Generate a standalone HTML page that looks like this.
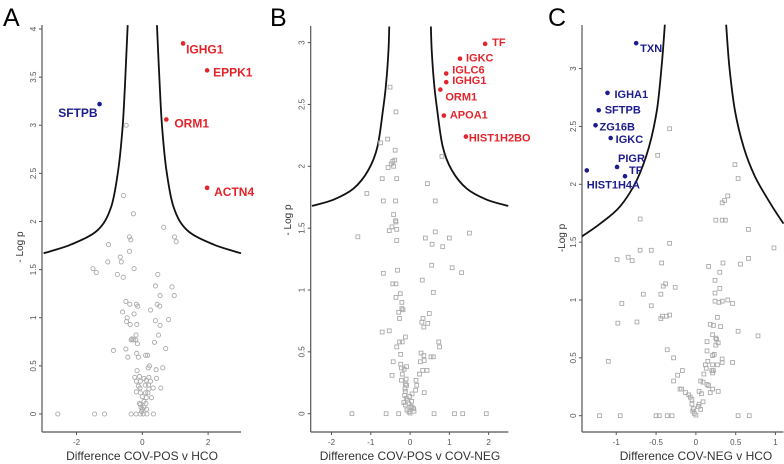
<!DOCTYPE html>
<html><head><meta charset="utf-8">
<style>
html,body{margin:0;padding:0;background:#fff;}
svg{display:block;font-family:"Liberation Sans",Arial,sans-serif;}
</style></head>
<body>
<svg id="fig" width="784" height="464" viewBox="0 0 784 464" xmlns="http://www.w3.org/2000/svg"></svg>
<script>
// ---------- Panel A data ----------
const aX = [-0.49,-0.57,-0.27,0.65,0.98,1.03,-0.39,-0.35,-1.03,-0.39,-0.67,-1.05,-0.64,-1.5,-0.25,
 -1.40,-0.76,-0.58,0.47,0.40,0.90,0.54,0.97,-0.50,-0.38,-0.18,-0.14,0.45,0.53,0.25,-0.60,-0.25,-0.46,-0.48,-0.37,-0.17,0.40,0.80,0.54,0.49,-0.19,
 -0.31,-0.26,-0.2,-0.34,-0.15,0.37,-0.88,-0.50,0.71,-0.44,-0.17,-0.12,0.10,0.16,
 0.22,0.18,0.42,0.62,-0.16,-0.23,-0.09,0.05,0.20,0.43,-0.18,-0.06,0.12,0.25,-0.12,0.09,0.19,0.33,0.56,-0.07,0.20,-0.18,-0.06,0.10,0.17,0.0,0.12,0.28,-0.09,-0.06,0.05,0.11,-0.04,0.0,0.05,-0.02,0.13,
 -2.57,-1.45,-1.15,-0.34,-0.19,-0.06,0.03,0.14,0.34];
const aY = [3.0,2.27,2.08,1.94,1.84,1.79,1.84,1.81,1.76,1.69,1.63,1.58,1.58,1.51,1.51,
 1.47,1.45,1.42,1.45,1.33,1.32,1.23,1.23,1.17,1.14,1.14,1.12,1.14,1.12,1.08,1.06,1.04,1.0,0.96,0.93,0.93,0.97,0.98,0.92,0.82,0.82,
 0.78,0.77,0.77,0.77,0.73,0.745,0.66,0.675,0.68,0.59,0.63,0.59,0.61,0.61,
 0.50,0.48,0.46,0.48,0.45,0.38,0.39,0.37,0.38,0.37,0.34,0.34,0.35,0.34,0.29,0.30,0.30,0.27,0.27,0.27,0.26,0.23,0.22,0.22,0.22,0.18,0.17,0.17,0.11,0.10,0.13,0.11,0.07,0.05,0.07,0.025,0.05,
 0,0,0,0,0,0,0,0,0];
const aHitNames = ["IGHG1","EPPK1","SFTPB","ORM1","ACTN4"];
const aHitX = [1.24,1.97,-1.30,0.73,1.97];
const aHitY = [3.85,3.57,3.22,3.06,2.35];
const aHitUp = [true,true,false,true,true];
const aCurveRX = [0.445,0.53,0.60,0.73,0.95,1.36,2.17,3.0];
const aCurveRY = [4.04,3.40,2.98,2.54,2.15,1.91,1.76,1.67];
const aXTicks = [-2,0,2];
const aYTicks = [0,0.5,1,1.5,2,2.5,3,3.5,4];

// ---------- Panel B data ----------
const bX = [-0.51,-0.36,-0.57,-0.75,-0.38,0.81,-0.39,-0.44,-0.48,-0.42,-0.56,-0.71,-0.34,0.44,-1.10,-0.68,-0.37,0.64,-0.42,-0.37,
 -1.33,-0.53,-0.46,-0.36,-0.34,-0.34,0.64,0.39,0.56,0.83,1.00,1.51,-0.68,-0.32,0.55,1.07,1.31,0.31,-0.44,-0.36,0.59,-0.25,-0.36,-0.21,-0.21,-0.18,-0.29,-0.27,
 0.49,0.33,0.30,0.45,0.35,-0.71,-0.53,-0.12,-0.27,-0.20,0.73,0.75,-0.34,-0.24,0.28,0.35,0.53,0.59,-0.43,0.26,0.36,-0.24,-0.09,-0.22,0.32,0.43,-0.15,0.24,-0.46,-0.2,-0.22,-0.1,0.15,0.17,-0.12,-0.09,
 -0.13,-0.12,0.14,0.36,-0.14,-0.10,-0.16,-0.07,-0.12,-0.03,0.05,0.09,-0.08,-0.03,0.02,-0.01,0.05,0.10,0.04,
 -1.48,-0.61,-0.29,0.61,1.13,1.34,1.94,0.0];
const bY = [2.64,2.44,2.22,2.19,2.13,2.08,2.05,2.04,2.02,2.0,1.99,1.90,1.90,1.86,1.78,1.72,1.72,1.72,1.61,1.56,
 1.43,1.48,1.51,1.55,1.49,1.40,1.47,1.42,1.37,1.35,1.42,1.46,1.135,1.16,1.20,1.18,1.14,1.08,1.05,1.05,0.98,0.97,0.94,0.90,0.85,0.84,0.82,0.77,
 0.81,0.77,0.74,0.73,0.70,0.66,0.67,0.62,0.58,0.58,0.58,0.54,0.54,0.48,0.49,0.47,0.46,0.46,0.42,0.42,0.43,0.40,0.38,0.37,0.35,0.35,0.36,0.32,0.31,0.32,0.27,0.28,0.27,0.23,0.24,0.23,
 0.20,0.18,0.19,0.17,0.148,0.124,0.09,0.11,0.07,0.08,0.05,0.04,0.03,0.016,0.057,0.14,0.16,0.02,0.10,
 0,0,0,0,0,0,0,0.005];
const bHitNames = ["TF","IGKC","IGLC6","IGHG1","ORM1","APOA1","HIST1H2BO"];
const bHitX = [1.91,1.27,0.92,0.92,0.77,0.86,1.42];
const bHitY = [2.99,2.87,2.75,2.68,2.62,2.41,2.24];
const bHitUp = [true,true,true,true,true,true,true];
const bCurveRX = [0.53,0.55,0.61,0.68,0.83,1.06,1.44,1.95,2.5];
const bCurveRY = [3.13,2.94,2.67,2.48,2.16,1.97,1.82,1.73,1.68];
const bXTicks = [-2,-1,0,1,2];
const bYTicks = [0,0.5,1,1.5,2,2.5,3];

// ---------- Panel C data ----------
const cX = [-0.33,-0.48,0.49,0.53,0.40,-0.70,0.33,0.36,0.25,0.33,0.37,0.66,-0.33,0.98,-0.99,-0.85,-0.80,-0.70,-0.56,-0.43,
 0.16,0.34,0.56,0.66,0.30,-0.38,-0.41,-0.26,0.24,0.30,0.24,-0.66,-0.44,-0.93,-0.56,0.24,0.29,0.33,0.40,0.46,-0.44,-0.42,-0.37,-0.33,-0.98,-0.74,
 0.27,0.18,0.22,0.31,0.53,0.78,0.21,0.25,0.26,0.28,0.25,0.14,-0.36,-0.28,-1.10,0.14,0.21,0.23,0.15,0.12,0.21,0.27,0.33,0.33,0.46,
 0.13,0.20,0.21,0.22,-0.17,-0.23,-0.28,0.10,0.06,0.09,0.14,0.16,0.28,0.21,0.18,-0.20,-0.18,
 -0.13,-0.09,-0.07,-0.05,-0.05,-0.03,-0.04,-0.02,0.0,0.03,0.06,0.04,0.09,0.04,0.07,
 -1.21,-0.95,-0.50,-0.46,-0.36,-0.30,0.53,0.67];
const cY = [2.48,2.25,2.17,2.05,1.90,1.70,1.84,1.86,1.69,1.69,1.69,1.61,1.49,1.45,1.35,1.37,1.34,1.43,1.43,1.32,
 1.29,1.32,1.31,1.36,1.24,1.14,1.12,1.11,1.17,1.10,1.06,1.05,1.05,0.97,0.95,0.99,0.98,0.99,1.0,0.97,0.84,0.86,0.86,0.87,0.80,0.81,
 0.85,0.79,0.78,0.77,0.73,0.69,0.70,0.67,0.66,0.63,0.61,0.64,0.57,0.50,0.47,0.56,0.52,0.53,0.47,0.44,0.44,0.44,0.49,0.46,0.46,
 0.41,0.39,0.37,0.39,0.39,0.35,0.30,0.36,0.30,0.29,0.27,0.26,0.21,0.23,0.20,0.23,0.23,
 0.20,0.18,0.16,0.14,0.10,0.06,0.04,0.02,0.005,0.08,0.054,0.10,0.12,0.21,0.19,
 0,0,0,0,0,0,0,0];
const cHitNames = ["TXN","IGHA1","SFTPB","ZG16B","IGKC","PIGR","TF","HIST1H4A"];
const cHitX = [-0.75,-1.11,-1.22,-1.26,-1.07,-0.99,-0.89,-1.37];
const cHitY = [3.22,2.79,2.64,2.51,2.40,2.15,2.07,2.12];
const cHitUp = [false,false,false,false,false,false,false,false];
const cCurveLX = [-0.39,-0.43,-0.49,-0.59,-0.74,-0.95,-1.20,-1.43];
const cCurveLY = [3.38,3.02,2.64,2.32,2.04,1.81,1.66,1.55];
const cCurveRX = [0.38,0.42,0.49,0.60,0.74,0.93,1.10];
const cCurveRY = [3.38,3.02,2.64,2.32,2.07,1.84,1.66];
const cXTicks = [-1,-0.5,0,0.5,1];
const cYTicks = [0,0.5,1,1.5,2,2.5,3];

const RED = "#e3242b", BLUE = "#1c1c8c";
const NS = "http://www.w3.org/2000/svg";
const svg = document.getElementById("fig");
function mk(tag, attrs, parent){
  const e = document.createElementNS(NS, tag);
  for (const k in attrs) e.setAttribute(k, attrs[k]);
  (parent || svg).appendChild(e);
  return e;
}
function scale(d0,d1,r0,r1){ return v => r0 + (v-d0)/(d1-d0)*(r1-r0); }

function panel(cfg){
  const g = mk("g", {});
  
  
  const sx = scale(cfg.xd[0], cfg.xd[1], cfg.xr[0], cfg.xr[1]);
  const sy = scale(0, 1, cfg.y0, cfg.y1);
  const L = cfg.xr[0], R = cfg.xr[1], B = cfg.axisY, T = cfg.top;
  const lt = mk("text", {x: cfg.letterX, y: 26, "font-size": 25, fill: "#000"}, g);
  lt.textContent = cfg.letter;
  
  
  const ya = mk("line", {x1:L, y1:T, x2:L, y2:B, stroke:"#555", "stroke-width":1.2}, g);
  
  
  const xa = mk("line", {x1:L, y1:B, x2:R, y2:B, stroke:"#555", "stroke-width":1.2}, g);
  
  
  cfg.yt.forEach(v => {
    const y = sy(v);
    mk("line", {x1:L-3, y1:y, x2:L, y2:y, stroke:"#555"}, g);
    const t = mk("text", {x:0, y:0, "font-size":8, fill:"#555", "text-anchor":"middle",
      transform:`translate(${L-6},${y}) rotate(-90)`}, g);
    t.textContent = String(v);
    
    
  });
  cfg.xt.forEach(v => {
    const x = sx(v);
    mk("line", {x1:x, y1:B, x2:x, y2:B+3, stroke:"#555"}, g);
    const t = mk("text", {x:x, y:B+13, "font-size":8, fill:"#555", "text-anchor":"middle"}, g);
    t.textContent = String(v);
    
    
  });
  const xt = mk("text", {x:cfg.titleX, y:460, "font-size":12, fill:"#333", "text-anchor":"middle"}, g);
  xt.textContent = cfg.xTitle;
  
  
  const yt = mk("text", {x:0, y:0, "font-size":10, fill:"#333", "text-anchor":"middle",
    transform:`translate(${cfg.yTitleX},${cfg.yTitleY}) rotate(-90)`}, g);
  yt.textContent = cfg.yTitle;
  
  
  function smooth(xs, ys){
    const p = xs.map((x,i)=>[sx(x), sy(ys[i])]);
    let d = "M"+p[0][0]+","+p[0][1];
    for (let i=0;i<p.length-1;i++){
      const p0=p[Math.max(0,i-1)], p1=p[i], p2=p[i+1], p3=p[Math.min(p.length-1,i+2)];
      const c1=[p1[0]+(p2[0]-p0[0])/6, p1[1]+(p2[1]-p0[1])/6];
      const c2=[p2[0]-(p3[0]-p1[0])/6, p2[1]-(p3[1]-p1[1])/6];
      d += `C${c1[0].toFixed(1)},${c1[1].toFixed(1)} ${c2[0].toFixed(1)},${c2[1].toFixed(1)} ${p2[0].toFixed(1)},${p2[1].toFixed(1)}`;
    }
    return d;
  }
  const lc = mk("path", {d: smooth(cfg.clx, cfg.cly), fill:"none", stroke:"#111", "stroke-width":1.8}, g);
  
  
  const rc = mk("path", {d: smooth(cfg.crx, cfg.cry), fill:"none", stroke:"#111", "stroke-width":1.8}, g);
  
  
  cfg.px.forEach((xv,i) => {
    const x = sx(xv), y = sy(cfg.py[i]);
    let m;
    if (cfg.shape === "circle") m = mk("circle", {cx:x, cy:y, r:2.1, fill:"none", stroke:"#aaa", "stroke-width":0.9}, g);
    else m = mk("rect", {x:x-1.9, y:y-1.9, width:3.8, height:3.8, fill:"none", stroke:"#aaa", "stroke-width":0.9}, g);
    
    
  });
  cfg.hn.forEach((n,i) => {
    const x = sx(cfg.hx[i]), y = sy(cfg.hy[i]);
    const col = cfg.up[i] ? RED : BLUE;
    const d = mk("circle", {cx:x, cy:y, r:2.3, fill:col}, g);
    
    
    const o = cfg.off[i];
    const t = mk("text", {x:x+o[0], y:y+o[1], "font-size":cfg.fs, "font-weight":"bold", fill:col,
      "dominant-baseline":"central", "text-anchor": o[2] || "start"}, g);
    t.textContent = n;
    
    
  });
}

panel({id:"a", letter:"A", letterX:3, xd:[-3.05,3.0], xr:[42,241], y0:414, y1:414-96.25, axisY:432, top:25,
  xt:aXTicks, yt:aYTicks, xTitle:"Difference COV-POS v HCO", titleX:142, yTitle:"- Log p", yTitleX:23, yTitleY:247,
  clx:aCurveRX.map(v=>-v), cly:aCurveRY, crx:aCurveRX, cry:aCurveRY,
  px:aX, py:aY, shape:"circle", hn:aHitNames, hx:aHitX, hy:aHitY, up:aHitUp, fs:12,
  off:[[3,6],[6,2],[-2,9,"end"],[8,4],[7,4]]});
panel({id:"b", letter:"B", letterX:270, xd:[-2.53,2.5], xr:[310.7,508.3], y0:413.7, y1:413.7-123.7, axisY:432, top:26,
  xt:bXTicks, yt:bYTicks, xTitle:"Difference COV-POS v COV-NEG", titleX:410, yTitle:"- Log p", yTitleX:291, yTitleY:220,
  clx:bCurveRX.map(v=>-v), cly:bCurveRY, crx:bCurveRX, cry:bCurveRY,
  px:bX, py:bY, shape:"square", hn:bHitNames, hx:bHitX, hy:bHitY, up:bHitUp, fs:11,
  off:[[7,-1],[6,0],[6,-3],[6,-1],[5,8],[6,0],[3,2]]});
panel({id:"c", letter:"C", letterX:548, xd:[-1.43,1.10], xr:[582,783.5], y0:415.7, y1:415.7-115.7, axisY:432, top:25,
  xt:cXTicks, yt:cYTicks, xTitle:"Difference COV-NEG v HCO", titleX:696, yTitle:"-Log p", yTitleX:565, yTitleY:238,
  clx:cCurveLX, cly:cCurveLY, crx:cCurveRX, cry:cCurveRY,
  px:cX, py:cY, shape:"square", hn:cHitNames, hx:cHitX, hy:cHitY, up:cHitUp, fs:11,
  off:[[4,6],[7,2],[6,0],[4,2],[5,2],[1,-8],[4,-5],[0,15]]});
</script>
</body></html>
